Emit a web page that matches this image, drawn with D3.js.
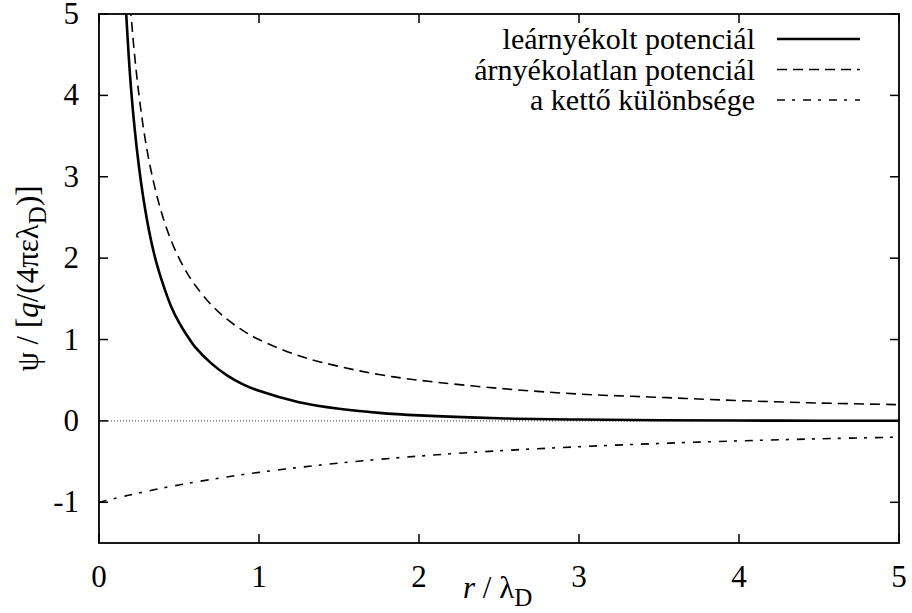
<!DOCTYPE html>
<html>
<head>
<meta charset="utf-8">
<script src="https://cdn.jsdelivr.net/npm/d3@7"></script>
<style>
  body { margin: 0; background: #fff; }
</style>
</head>
<body>
<svg id="chart" width="912" height="613"></svg>
<script>
// r / lambda_D sample points
const rValues = [0, 0.15, 0.2, 0.25, 0.3, 0.35, 0.4, 0.45, 0.5, 0.55, 0.6, 0.7, 0.8, 0.9, 1.0,
  1.25, 1.5, 1.75, 2, 2.5, 3, 3.5, 4, 4.5, 5];
// leárnyékolt (screened)
const screened = [null, 5.74, 4.09, 3.12, 2.47, 2.01, 1.68, 1.41, 1.21, 1.05, 0.91, 0.71, 0.56, 0.45, 0.37,
  0.23, 0.149, 0.099, 0.068, 0.033, 0.017, 0.0086, 0.0046, 0.0025, 0.0013];
// árnyékolatlan (unscreened)
const unscreened = [null, 6.67, 5, 4, 3.33, 2.86, 2.5, 2.22, 2, 1.82, 1.67, 1.43, 1.25, 1.11, 1,
  0.8, 0.67, 0.57, 0.5, 0.4, 0.33, 0.29, 0.25, 0.22, 0.2];
// a kettő különbsége (difference)
const difference = [-1, -0.929, -0.906, -0.885, -0.864, -0.843, -0.824, -0.805, -0.787, -0.769, -0.752, -0.719,
  -0.688, -0.659, -0.632, -0.571, -0.518, -0.472, -0.432, -0.367, -0.317, -0.277, -0.245, -0.22, -0.199];

const xTicks = [0, 1, 2, 3, 4, 5];
const yTicks = [-1, 0, 1, 2, 3, 4, 5];
const legendLabels = ["leárnyékolt potenciál", "árnyékolatlan potenciál", "a kettő különbsége"];

const width = 912, height = 613;
const margin = { top: 14, right: 13, bottom: 70, left: 99 };
const fontSize = 31;
const serif = "'Liberation Serif'";
const svg = d3.select("#chart");

const x = d3.scaleLinear().domain([0, 5]).range([margin.left, width - margin.right]);
const y = d3.scaleLinear().domain([-1.5, 5]).range([height - margin.bottom, margin.top]);

svg.append("clipPath").attr("id", "clip")
  .append("rect")
  .attr("x", x(0)).attr("y", y(5))
  .attr("width", x(5) - x(0)).attr("height", y(-1.5) - y(5));

// zero line
svg.append("line")
  .attr("x1", x(0)).attr("x2", x(5))
  .attr("y1", y(0)).attr("y2", y(0))
  .attr("stroke", "#000").attr("stroke-width", 0.8)
  .attr("stroke-dasharray", "1,2");

const styles = [
  { data: screened, width: 2.6, dash: null },
  { data: unscreened, width: 1.6, dash: "10,6" },
  { data: difference, width: 1.6, dash: "8,7,3,8" }
];

const line = d3.line()
  .defined((d) => d[1] !== null)
  .x((d) => x(d[0]))
  .y((d) => y(d[1]))
  .curve(d3.curveCatmullRom.alpha(0.5));

const curves = svg.append("g").attr("clip-path", "url(#clip)");
styles.forEach((s) => {
  curves.append("path")
    .datum(rValues.map((r, i) => [r, s.data[i]]))
    .attr("d", line)
    .attr("fill", "none")
    .attr("stroke", "#000")
    .attr("stroke-width", s.width)
    .attr("stroke-dasharray", s.dash);
});

// frame
svg.append("rect")
  .attr("x", x(0)).attr("y", y(5))
  .attr("width", x(5) - x(0)).attr("height", y(-1.5) - y(5))
  .attr("fill", "none").attr("stroke", "#000").attr("stroke-width", 1.8);

// ticks on all sides, pointing in
const tickLen = 9;
const ticks = svg.append("g").attr("stroke", "#000").attr("stroke-width", 1.5);
xTicks.forEach((t) => {
  ticks.append("line").attr("x1", x(t)).attr("x2", x(t))
    .attr("y1", y(-1.5)).attr("y2", y(-1.5) - tickLen);
  ticks.append("line").attr("x1", x(t)).attr("x2", x(t))
    .attr("y1", y(5)).attr("y2", y(5) + tickLen);
});
yTicks.forEach((t) => {
  ticks.append("line").attr("x1", x(0)).attr("x2", x(0) + tickLen)
    .attr("y1", y(t)).attr("y2", y(t));
  ticks.append("line").attr("x1", x(5)).attr("x2", x(5) - tickLen)
    .attr("y1", y(t)).attr("y2", y(t));
});

// tick labels
svg.append("g").selectAll("text")
  .data(xTicks).join("text")
  .attr("x", (d) => x(d)).attr("y", 587)
  .attr("text-anchor", "middle")
  .attr("font-family", serif)
  .attr("font-size", fontSize)
  .text((d) => d);

svg.append("g").selectAll("text")
  .data(yTicks).join("text")
  .attr("x", 79).attr("y", (d) => y(d) + 10)
  .attr("text-anchor", "end")
  .attr("font-family", serif)
  .attr("font-size", fontSize)
  .text((d) => d);

// x axis title
const xt = svg.append("text")
  .attr("x", 463).attr("y", 598)
  .attr("font-family", serif)
  .attr("font-size", fontSize);
xt.append("tspan").attr("font-style", "italic").text("r");
xt.append("tspan").text(" / λ");
xt.append("tspan").attr("dy", 8).attr("font-size", 25).text("D");

// y axis title
const yt = svg.append("text")
  .attr("transform", `translate(38,${(y(5) + y(-1.5)) / 2}) rotate(-90)`)
  .attr("text-anchor", "middle")
  .attr("font-family", serif)
  .attr("font-size", fontSize);
yt.append("tspan").text("ψ / [");
yt.append("tspan").attr("font-style", "italic").text("q");
yt.append("tspan").text("/(4πελ");
yt.append("tspan").attr("dy", 8).attr("font-size", 25).text("D");
yt.append("tspan").attr("dy", -8).text(")]");

// legend
const legend = svg.append("g");
styles.forEach((s, i) => {
  const ly = 39 + i * 30.5;
  legend.append("text")
    .attr("x", 755).attr("y", ly + 10)
    .attr("text-anchor", "end")
    .attr("font-family", serif)
    .attr("font-size", 30)
    .text(legendLabels[i]);
  legend.append("line")
    .attr("x1", 777).attr("x2", 860)
    .attr("y1", ly).attr("y2", ly)
    .attr("stroke", "#000")
    .attr("stroke-width", s.width)
    .attr("stroke-dasharray", s.dash);
});
</script>
</body>
</html>
